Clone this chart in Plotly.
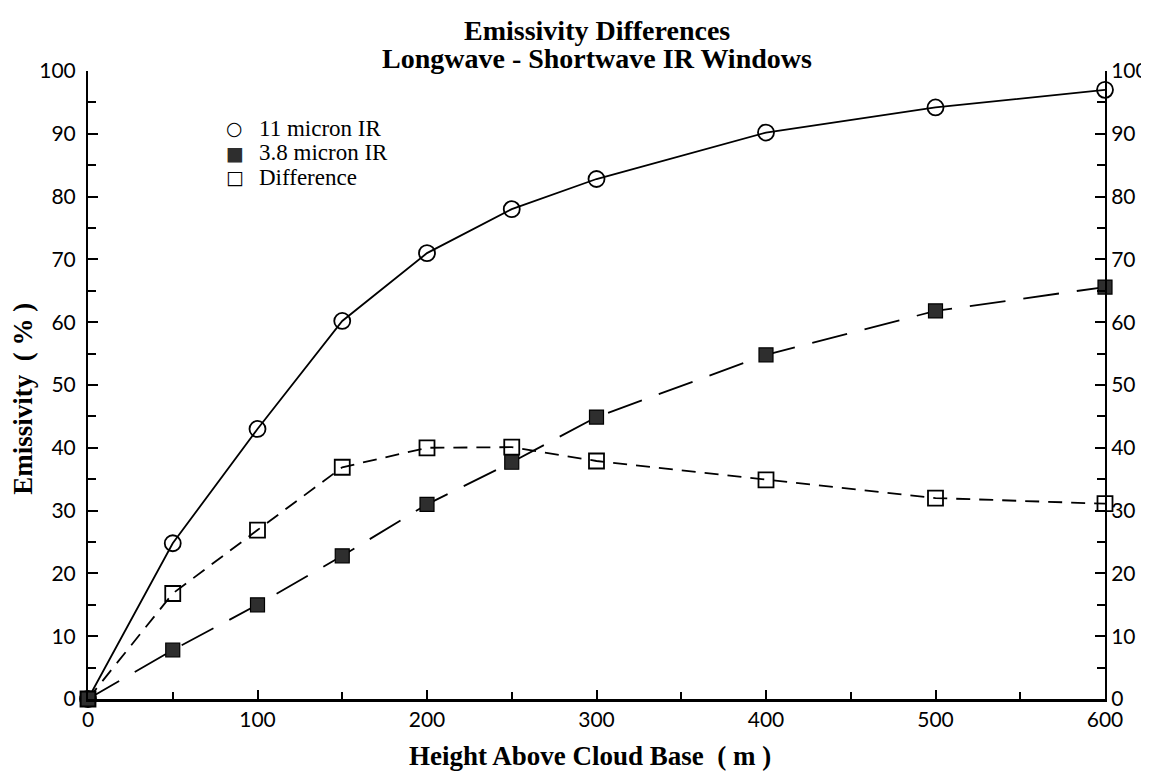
import plotly.graph_objects as go

heights = [0, 50, 100, 150, 200, 250, 300, 400, 500, 600]
ir11 = [0, 24.8, 43.0, 60.2, 71.0, 78.0, 82.8, 90.2, 94.2, 97.0]
ir38 = [0, 7.8, 15.0, 22.8, 31.0, 37.7, 44.9, 54.8, 61.8, 65.6]
diff = [0, 16.8, 26.9, 36.9, 40.0, 40.1, 37.9, 34.9, 32.0, 31.1]

x_ticks = [0, 100, 200, 300, 400, 500, 600]
y_ticks = [0, 10, 20, 30, 40, 50, 60, 70, 80, 90, 100]

title_lines = ["Emissivity Differences", "Longwave - Shortwave IR Windows"]
x_title = "Height Above Cloud Base  ( m )"
y_title = "Emissivity  ( % )"
legend_names = ["11 micron IR", "3.8 micron IR", "Difference"]
legend_glyphs = ["○", "■", "□"]
legend_glyph_colors = ["black", "#2e2e2e", "black"]

serif = "Liberation Serif"
tickfont = dict(family="Lato", size=21, color="black")
boldfont = dict(family=serif, size=27, color="black", weight="bold")
titlefont = dict(family=serif, size=28, color="black", weight="bold")

fig = go.Figure()

fig.add_trace(go.Scatter(
    x=heights, y=diff, mode="lines+markers", name=legend_names[2], showlegend=False, cliponaxis=False,
    line=dict(color="black", width=1.8, dash="14px,9px"),
    marker=dict(symbol="square-open", size=15, color="black", line=dict(width=1.8)),
))
fig.add_trace(go.Scatter(
    x=heights, y=ir11, mode="lines+markers", name=legend_names[0], showlegend=False, cliponaxis=False,
    line=dict(color="black", width=1.8),
    marker=dict(symbol="circle-open", size=16, color="black", line=dict(width=1.8)),
))
fig.add_trace(go.Scatter(
    x=heights, y=ir38, mode="lines+markers", name=legend_names[1], showlegend=False, cliponaxis=False,
    yaxis="y2",
    line=dict(color="black", width=1.8, dash="36px,18px"),
    marker=dict(symbol="square", size=14, color="#2e2e2e", line=dict(width=1.2, color="black")),
))

axis_common = dict(showgrid=False, zeroline=False, automargin=False, tickfont=tickfont,
                   tickcolor="black", linecolor="black", showline=True)

annotations = [
    dict(text=title_lines[0], x=0.5, y=1, xref="paper", yref="paper", yshift=41,
         showarrow=False, xanchor="center", yanchor="middle", font=titlefont),
    dict(text=title_lines[1], x=0.5, y=1, xref="paper", yref="paper", yshift=13,
         showarrow=False, xanchor="center", yanchor="middle", font=titlefont),
    dict(text=x_title, x=0.494, y=0, xref="paper", yref="paper", yshift=-57,
         showarrow=False, xanchor="center", yanchor="middle", font=boldfont),
    dict(text=y_title, x=0, y=0.478, xref="paper", yref="paper", xshift=-65, textangle=-90,
         showarrow=False, xanchor="center", yanchor="middle", font=boldfont),
]
legend_rows_y = [0.909, 0.8695, 0.831]
for name, glyph, gcol, ly in zip(legend_names, legend_glyphs, legend_glyph_colors, legend_rows_y):
    annotations.append(dict(text=glyph, x=0.1445, y=ly, xref="paper", yref="paper", showarrow=False,
                            xanchor="center", yanchor="middle",
                            font=dict(family="DejaVu Sans", size=19, color=gcol)))
    annotations.append(dict(text=name, x=0.1662, y=ly, xref="paper", yref="paper", showarrow=False,
                            xanchor="left", yanchor="middle",
                            font=dict(family=serif, size=23, color="black")))

fig.update_layout(
    width=1141, height=764,
    margin=dict(l=80, r=44, t=63, b=73),
    paper_bgcolor="white", plot_bgcolor="white",
    showlegend=False,
    xaxis=dict(range=[0, 600], tickvals=x_ticks, ticks="inside", ticklen=9, tickwidth=1.5,
               linewidth=3,
               minor=dict(dtick=50, ticks="inside", ticklen=7, tickwidth=1.5, tickcolor="black", showgrid=False),
               **axis_common),
    yaxis=dict(range=[0, 100], tickvals=y_ticks, ticks="inside", ticklen=10, tickwidth=2,
               linewidth=2, ticklabelstandoff=6,
               minor=dict(dtick=5, ticks="inside", ticklen=8, tickwidth=2, tickcolor="black", showgrid=False),
               **axis_common),
    yaxis2=dict(range=[0, 100], tickvals=y_ticks, overlaying="y", side="right", ticks="inside",
                ticklen=10, tickwidth=2, linewidth=2, ticklabelstandoff=0,
                minor=dict(dtick=5, ticks="inside", ticklen=8, tickwidth=2, tickcolor="black", showgrid=False),
                **axis_common),
    annotations=annotations,
)

fig.write_html("out.html")
